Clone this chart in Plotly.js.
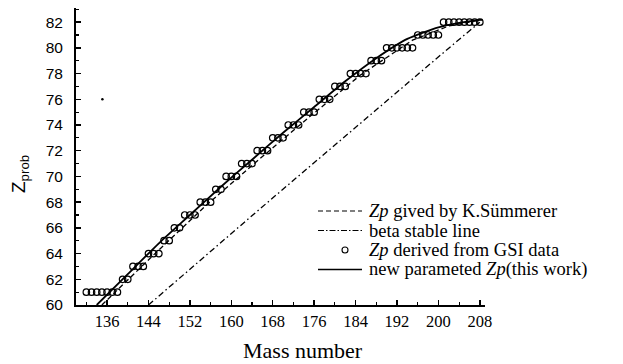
<!DOCTYPE html>
<html><head><meta charset="utf-8">
<script src="https://cdn.plot.ly/plotly-3.0.1.min.js"></script>
<style>html,body{margin:0;padding:0;background:#fff;} #chart{width:623px;height:364px;}</style>
</head><body><div id="chart"></div>
<script>
// GSI data (mass number, Zp)
const gsiMass = [132,133,134,135,136,137,138,139,140,141,142,143,144,145,146,147,148,149,150,151,152,153,154,155,156,157,158,159,160,161,162,163,164,165,166,167,168,169,170,171,172,173,174,175,176,177,178,179,180,181,182,183,184,185,186,187,188,189,190,191,192,193,194,195,196,197,198,199,200,201,202,203,204,205,206,207,208];
const gsiZ    = [61,61,61,61,61,61,61,62,62,63,63,63,64,64,64,65,65,66,66,67,67,67,68,68,68,69,69,70,70,70,71,71,71,72,72,72,73,73,73,74,74,74,75,75,75,76,76,76,77,77,77,78,78,78,78,79,79,79,80,80,80,80,80,80,81,81,81,81,81,82,82,82,82,82,82,82,82];
// new parameterised Zp (this work)
const newMass = [134,140,146,152,158,164,170,176,182,188,194,200,204,208.5];
const newZ    = [60,62.4,64.8,67.0,69.2,71.3,73.4,75.4,77.4,79.2,80.7,81.6,81.95,82.2];
// Zp by K.Sümmerer
const sumMass = [135,145,155,165,175,185,195,202,208.5];
const sumZ    = [60,63.9,67.7,71.2,74.6,77.9,80.6,81.7,82.2];
// beta stable line
const betaMass = [144,165.3,200.3,208];
const betaZ    = [60,67.4,79.4,82];
// stray speck in the scan
const speckMass = [135.1];
const speckZ = [76.0];

const xTicks = [136,144,152,160,168,176,184,192,200,208];
const yTicks = [60,62,64,66,68,70,72,74,76,78,80,82];
const legendLabels = ["<i>Zp</i> gived by K.Sümmerer","beta stable line","<i>Zp</i> derived from GSI data","new parameted <i>Zp</i>(this work)"];

// pixel helpers for the layout (plot area 76..485 x 8..305)
const L=76,R=485,T=8,B=305;
const px = x => (x-L)/(R-L);
const py = y => (B-y)/(B-T);

const traces = [
  {x:sumMass,y:sumZ,mode:'lines',line:{color:'#000',width:1.3,dash:'5px,3px'},showlegend:false,hoverinfo:'skip'},
  {x:betaMass,y:betaZ,mode:'lines',line:{color:'#000',width:1.3,dash:'6px,3px,1.5px,3px'},showlegend:false,hoverinfo:'skip'},
  {x:newMass,y:newZ,mode:'lines',line:{color:'#000',width:1.8,shape:'spline',smoothing:0.6},showlegend:false,hoverinfo:'skip'},
  {x:gsiMass,y:gsiZ,mode:'markers',marker:{symbol:'circle-open',size:6.5,color:'#000',line:{width:1.2,color:'#000'}},showlegend:false,hoverinfo:'skip'},
  {x:speckMass,y:speckZ,mode:'markers',marker:{symbol:'circle',size:2.5,color:'#000'},showlegend:false,hoverinfo:'skip'}
];

const rows = [211,230.5,250,269.5];
const shapes = [
  {type:'line',xref:'paper',yref:'paper',x0:px(318),x1:px(362),y0:py(rows[0]),y1:py(rows[0]),line:{color:'#000',width:1.2,dash:'5px,3px'}},
  {type:'line',xref:'paper',yref:'paper',x0:px(318),x1:px(362),y0:py(rows[1]),y1:py(rows[1]),line:{color:'#000',width:1.2,dash:'6px,2px,1.5px,2px'}},
  {type:'circle',xref:'paper',yref:'paper',x0:px(342),x1:px(348),y0:py(rows[2]+3),y1:py(rows[2]-3),line:{color:'#000',width:1.1}},
  {type:'line',xref:'paper',yref:'paper',x0:px(318),x1:px(362),y0:py(rows[3]),y1:py(rows[3]),line:{color:'#000',width:1.5}}
];
const annotations = legendLabels.map((t,i)=>({
  text:t,xref:'paper',yref:'paper',x:px(367),y:py(rows[i]),xanchor:'left',yanchor:'middle',showarrow:false,
  font:{family:'Liberation Serif',size:18.5,color:'#000'}
}));
annotations.push({text:'Mass number',xref:'paper',yref:'paper',x:px(303),y:py(350),xanchor:'center',yanchor:'middle',showarrow:false,font:{family:'Liberation Serif',size:22,color:'#000'}});
annotations.push({text:'Z<sub>prob</sub>',xref:'paper',yref:'paper',x:px(20),y:py(174),xanchor:'center',yanchor:'middle',textangle:-90,showarrow:false,font:{family:'Liberation Sans',size:19,color:'#000'}});

const layout = {
  width:623,height:364,
  margin:{l:L,r:623-R,t:T,b:364-B,pad:0},
  paper_bgcolor:'#fff',plot_bgcolor:'#fff',
  showlegend:false,
  xaxis:{range:[130,209],tickmode:'array',tickvals:xTicks,ticktext:xTicks.map(String),
    ticks:'inside',ticklen:5,tickwidth:1.5,tickcolor:'#000',
    showline:true,linewidth:2,linecolor:'#000',showgrid:false,zeroline:false,
    tickfont:{family:'Liberation Serif',size:16.5,color:'#000'},
    minor:{tickmode:'linear',tick0:136,dtick:4,ticks:'inside',ticklen:3,tickwidth:1.2,tickcolor:'#000'}},
  yaxis:{range:[60,83.1],tickmode:'array',tickvals:yTicks,ticktext:yTicks.map(String),
    ticks:'inside',ticklen:5,tickwidth:1.5,tickcolor:'#000',
    showline:true,linewidth:2,linecolor:'#000',showgrid:false,zeroline:false,
    tickfont:{family:'Liberation Sans',size:15.5,color:'#000'},ticklabelstandoff:8,
    minor:{tickmode:'linear',tick0:60,dtick:1,ticks:'inside',ticklen:3,tickwidth:1.2,tickcolor:'#000'}},
  shapes:shapes,annotations:annotations
};
Plotly.newPlot('chart',traces,layout,{displayModeBar:false,staticPlot:true});
</script></body></html>
